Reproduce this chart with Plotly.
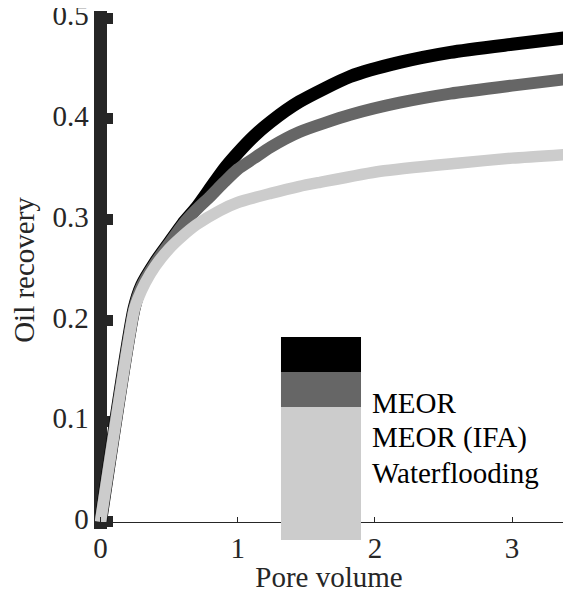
import plotly.graph_objects as go

# ---- data ----
series_names = ["MEOR", "MEOR (IFA)", "Waterflooding"]
series_colors = ["#000000", "#666666", "#cccccc"]

meor_x = [0, 0.245, 0.30, 0.40, 0.50, 0.60, 0.70, 0.80, 0.90, 1.00, 1.12, 1.24, 1.45, 1.82, 2.18, 2.55, 3.00, 3.43]
meor_y = [0, 0.212, 0.235, 0.258, 0.277, 0.296, 0.312, 0.331, 0.350, 0.366, 0.383, 0.397, 0.417, 0.442, 0.456, 0.466, 0.474, 0.481]

ifa_x = [0, 0.245, 0.30, 0.40, 0.50, 0.60, 0.70, 0.80, 0.90, 1.00, 1.12, 1.24, 1.45, 1.82, 2.18, 2.55, 3.00, 3.43]
ifa_y = [0, 0.211, 0.234, 0.257, 0.276, 0.295, 0.310, 0.323, 0.337, 0.350, 0.361, 0.372, 0.387, 0.404, 0.416, 0.425, 0.433, 0.440]

wf_x = [0, 0.245, 0.275, 0.325, 0.40, 0.50, 0.60, 0.70, 0.87, 1.00, 1.24, 1.45, 1.60, 2.04, 2.60, 3.00, 3.43]
wf_y = [0, 0.210, 0.222, 0.237, 0.254, 0.271, 0.284, 0.295, 0.309, 0.317, 0.326, 0.333, 0.337, 0.348, 0.356, 0.361, 0.365]

x_ticks = [0, 1, 2, 3]
y_ticks = [0, 0.1, 0.2, 0.3, 0.4, 0.5]
y_ticktext = ["0", "0.1", "0.2", "0.3", "0.4", "0.5"]

x_title = "Pore volume"
y_title = "Oil recovery"

FONT = "Liberation Serif"
FS = 29
AXC = "#262626"

fig = go.Figure()
widths = [13, 12, 11.5]
for name, xs, ys, c, w in zip(series_names, [meor_x, ifa_x, wf_x], [meor_y, ifa_y, wf_y], series_colors, widths):
    fig.add_trace(go.Scatter(x=xs, y=ys, mode="lines", name=name,
                             line=dict(color=c, width=w, shape="spline", smoothing=0.6),
                             showlegend=False))

# legend drawn as swatch blocks + labels (mimicking the reference's oversized legend)
sw_x0, sw_x1 = 0.3974, 0.5684
sw_bounds = [(0.3031, 0.3707), (0.2355, 0.3031), (-0.0212, 0.2355)]
lab_x = 0.5876
lab_y = [0.2432, 0.1776, 0.1081]
for (y0, y1), c, name, ly in zip(sw_bounds, series_colors, series_names, lab_y):
    fig.add_shape(type="rect", xref="paper", yref="paper", x0=sw_x0, x1=sw_x1, y0=y0, y1=y1,
                  fillcolor=c, line=dict(width=0), layer="above")
    fig.add_annotation(xref="paper", yref="paper", x=lab_x, y=ly, text=name, showarrow=False,
                       xanchor="left", yanchor="middle", font=dict(family=FONT, size=FS, color="#000000"))

fig.update_layout(
    width=555, height=585,
    margin=dict(l=87, r=0, t=3, b=64, autoexpand=False),
    paper_bgcolor="white", plot_bgcolor="white",
    font=dict(family=FONT, size=FS, color=AXC),
    xaxis=dict(range=[-0.04, 3.371], anchor="free", position=0.0136, automargin=False,
               tickvals=x_ticks, ticks="inside", ticklen=5, tickwidth=1, tickcolor=AXC,
               showline=True, linecolor=AXC, linewidth=1, showgrid=False, zeroline=False,
               tickfont=dict(family=FONT, size=FS, color=AXC),
               title=dict(text=x_title, font=dict(family=FONT, size=FS, color=AXC), standoff=16)),
    yaxis=dict(range=[-0.007, 0.507], anchor="free", position=0.01175, automargin=False,
               tickvals=y_ticks, ticktext=y_ticktext, ticks="inside", ticklen=6, tickwidth=11,
               tickcolor=AXC, showline=True, linecolor=AXC, linewidth=13, layer="below traces",
               showgrid=False, zeroline=False, ticklabeloverflow="allow", ticklabelshift=-3,
               tickfont=dict(family=FONT, size=FS, color=AXC),
               title=dict(text=y_title, font=dict(family=FONT, size=FS, color=AXC), standoff=14)),
)

fig.write_html("out.html")
